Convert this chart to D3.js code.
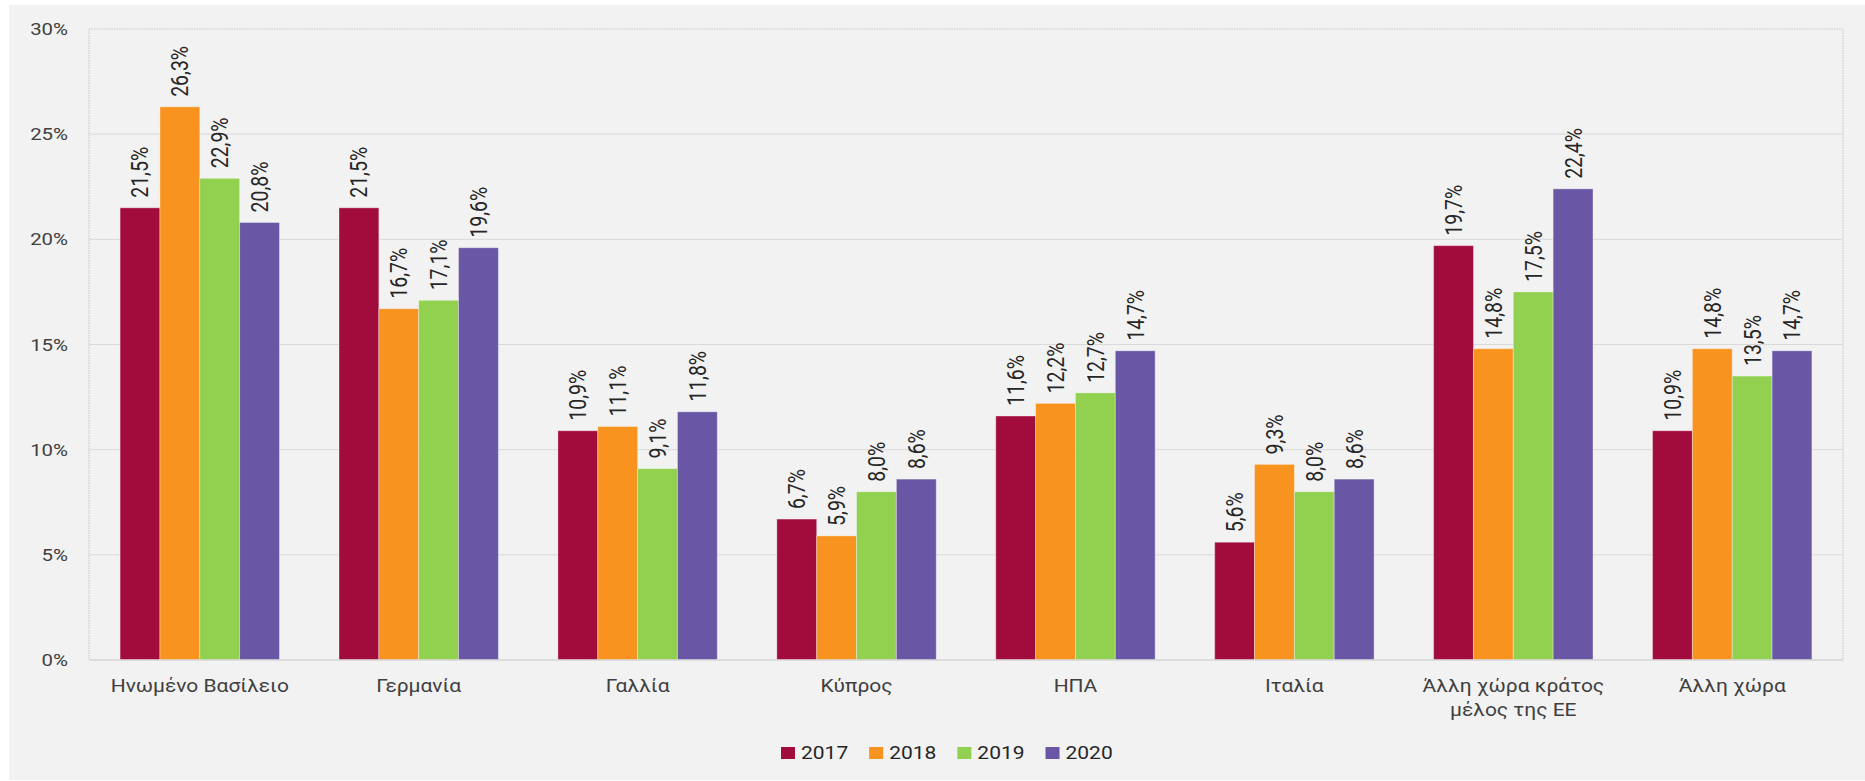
<!DOCTYPE html>
<html>
<head>
<meta charset="utf-8">
<script src="https://cdn.jsdelivr.net/npm/d3@7/dist/d3.min.js"></script>
<style>
  html, body { margin: 0; padding: 0; background: #ffffff; }
  svg { display: block; }
  text { font-family: Roboto, "Noto Sans", sans-serif; }
</style>
</head>
<body>
<svg id="chart" width="1865" height="781"></svg>
<script>
// Share by country, per year (percent)
const categories = ["Ηνωμένο Βασίλειο", "Γερμανία", "Γαλλία", "Κύπρος", "ΗΠΑ", "Ιταλία", "Άλλη χώρα κράτος μέλος της ΕΕ", "Άλλη χώρα"];
const years = ["2017", "2018", "2019", "2020"];
const values2017 = [21.5, 21.5, 10.9, 6.7, 11.6, 5.6, 19.7, 10.9];
const values2018 = [26.3, 16.7, 11.1, 5.9, 12.2, 9.3, 14.8, 14.8];
const values2019 = [22.9, 17.1, 9.1, 8.0, 12.7, 8.0, 17.5, 13.5];
const values2020 = [20.8, 19.6, 11.8, 8.6, 14.7, 8.6, 22.4, 14.7];
const yTicks = [0, 5, 10, 15, 20, 25, 30];
const colors = ["#a20c3c", "#f7931e", "#92d050", "#6956a5"];

const seriesValues = [values2017, values2018, values2019, values2020];
const fmt = v => v.toFixed(1).replace(".", ",") + "%";

const svg = d3.select("#chart");
const W = 1865, H = 781;
const plot = { left: 89, right: 1843, top: 29, bottom: 660 };
const sx = 1.2; // horizontal widening of glyphs

// chart background panel
svg.append("rect").attr("x", 9).attr("y", 5).attr("width", W - 9).attr("height", H - 6)
  .attr("fill", "#f2f2f2");

const y = d3.scaleLinear().domain([0, 30]).range([plot.bottom, plot.top]);
const x0 = d3.scaleBand().domain(categories).range([plot.left, plot.right])
  .paddingInner(0.272).paddingOuter(0.142);
const x1 = d3.scaleBand().domain(years).range([0, x0.bandwidth()]).padding(0);

// gridlines
svg.append("g").selectAll("line").data(yTicks.filter(t => t > 0 && t < 30)).join("line")
  .attr("x1", plot.left).attr("x2", plot.right)
  .attr("y1", d => y(d)).attr("y2", d => y(d))
  .attr("stroke", "#d9d9d9").attr("stroke-width", 1);

// plot frame (dotted)
svg.append("rect").attr("x", plot.left).attr("y", plot.top)
  .attr("width", plot.right - plot.left).attr("height", plot.bottom - plot.top)
  .attr("fill", "none").attr("stroke", "#d4d4d4").attr("stroke-width", 1.5)
  .attr("stroke-dasharray", "1.5,1");

// y axis labels
const yAxis = svg.append("g");
yAxis.selectAll("g").data(yTicks).join("g")
  .attr("transform", d => `translate(68,${y(d)}) scale(${sx},1)`)
  .append("text")
  .attr("text-anchor", "end").attr("dy", "0.36em")
  .attr("font-size", 17).attr("fill", "#404040")
  .text(d => d + "%");

// bars
const groups = svg.append("g").selectAll("g").data(categories).join("g")
  .attr("transform", d => `translate(${x0(d)},0)`);

groups.each(function(cat, ci) {
  const g = d3.select(this);
  const rows = years.map((yr, si) => ({ yr, si, v: seriesValues[si][ci] }));
  g.selectAll("rect").data(rows).join("rect")
    .attr("x", d => x1(d.yr)).attr("width", x1.bandwidth())
    .attr("y", d => y(d.v)).attr("height", d => y(0) - y(d.v))
    .attr("fill", d => colors[d.si])
    .attr("stroke", "rgba(255,255,255,0.35)").attr("stroke-width", 1);
  g.selectAll("g.lbl").data(rows).join("g").attr("class", "lbl")
    .attr("transform", d => `translate(${x1(d.yr) + x1.bandwidth() / 2},${y(d.v) - 10}) rotate(-90) scale(1,${sx})`)
    .append("text")
    .attr("text-anchor", "start").attr("dy", "0.36em")
    .attr("font-size", 19.5).attr("fill", "#262626")
    .text(d => fmt(d.v));
});

// bottom axis line
svg.append("line").attr("x1", plot.left).attr("x2", plot.right)
  .attr("y1", plot.bottom).attr("y2", plot.bottom)
  .attr("stroke", "#d9d9d9").attr("stroke-width", 1.5);

// category labels, wrapped to the band step
const xAxis = svg.append("g");
categories.forEach(cat => {
  const g = xAxis.append("g")
    .attr("transform", `translate(${x0(cat) + x0.bandwidth() / 2},692) scale(${sx},1)`);
  const t = g.append("text").attr("text-anchor", "middle")
    .attr("font-size", 17.5).attr("fill", "#404040");
  const words = cat.split(" ");
  const maxW = x0.step() / sx;
  let line = [], lineNo = 0;
  let tspan = t.append("tspan").attr("x", 0).attr("y", 0);
  words.forEach(w => {
    line.push(w);
    tspan.text(line.join(" "));
    if (tspan.node().getComputedTextLength() > maxW && line.length > 1) {
      line.pop();
      tspan.text(line.join(" "));
      line = [w];
      lineNo++;
      tspan = t.append("tspan").attr("x", 0).attr("y", lineNo * 24).text(w);
    }
  });
});

// legend
const legend = svg.append("g").attr("transform", "translate(781,753)");
let lx = 0;
years.forEach((yr, i) => {
  const item = legend.append("g").attr("transform", `translate(${lx},0)`);
  item.append("rect").attr("x", 0).attr("y", -6).attr("width", 14).attr("height", 12)
    .attr("fill", colors[i]);
  const tg = item.append("g").attr("transform", `translate(20,0) scale(${sx},1)`);
  const t = tg.append("text").attr("dy", "0.36em").attr("font-size", 17.5)
    .attr("fill", "#262626").text(yr);
  lx += 20 + t.node().getComputedTextLength() * sx + 21;
});
</script>
</body>
</html>
